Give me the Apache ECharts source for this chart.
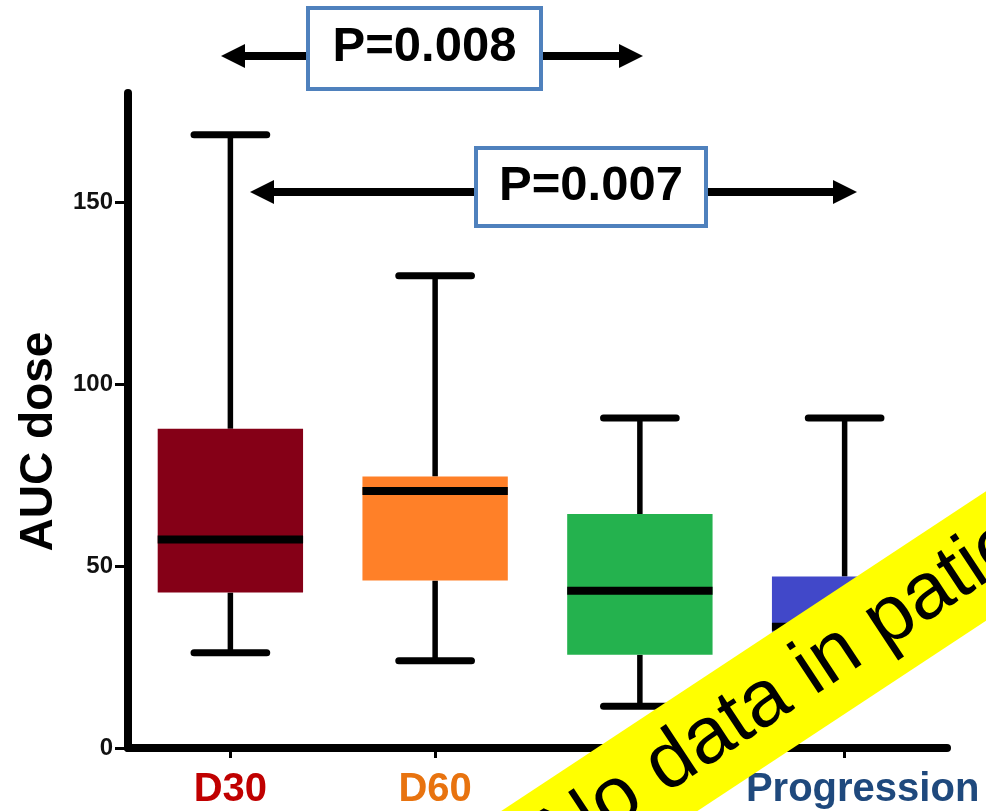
<!DOCTYPE html>
<html><head><meta charset="utf-8">
<script src="https://cdn.jsdelivr.net/npm/echarts@6/dist/echarts.min.js"></script>
<style>html,body{margin:0;padding:0;background:#fff}#c{width:986px;height:811px}</style>
</head><body><div id="c"></div>
<script>
// ---- data ----
const categories = ['D30', 'D60', 'D90', 'Progression'];
const mins    = [26.2, 24.0, 11.5, 18];
const q1s     = [42.7, 46.0, 25.6, 25];
const medians = [57.3, 70.6, 43.2, 33.3];
const q3s     = [87.7, 74.6, 64.3, 47.1];
const maxs    = [168.5, 129.8, 90.7, 90.7];
const yTicks  = [0, 50, 100, 150];
const pLabels = ['P=0.008', 'P=0.007'];
const bannerText = 'No data in patients';

// ---- styles ----
const boxColors   = ['#850017', '#FF8028', '#24B24E', '#4148C9'];
const labelColors = ['#C00000', '#E8730F', '#00B050', '#1F497D'];
const FONT = 'Liberation Sans, Arial, sans-serif';

const boxData = categories.map((c, i) => [i, mins[i], q1s[i], medians[i], q3s[i], maxs[i]]);

const chart = echarts.init(document.getElementById('c'), null, {renderer: 'canvas'});

function renderBox(params, api) {
  const idx = api.value(0);
  const pMin = api.coord([idx, api.value(1)]);
  const pQ1 = api.coord([idx, api.value(2)]);
  const pMed = api.coord([idx, api.value(3)]);
  const pQ3 = api.coord([idx, api.value(4)]);
  const pMax = api.coord([idx, api.value(5)]);
  const bandW = api.size([1, 0])[0];
  const boxW = bandW * 0.71;
  const capW = boxW * 0.5;
  const x = pMin[0];
  const blk = {stroke: '#000', lineWidth: 5.5};
  return {
    type: 'group',
    children: [
      {type: 'line', shape: {x1: x, y1: pQ3[1], x2: x, y2: pMax[1]}, style: blk},
      {type: 'line', shape: {x1: x, y1: pQ1[1], x2: x, y2: pMin[1]}, style: blk},
      {type: 'line', shape: {x1: x - capW / 2, y1: pMax[1], x2: x + capW / 2, y2: pMax[1]}, style: {stroke: '#000', lineWidth: 7, lineCap: 'round'}},
      {type: 'line', shape: {x1: x - capW / 2, y1: pMin[1], x2: x + capW / 2, y2: pMin[1]}, style: {stroke: '#000', lineWidth: 7, lineCap: 'round'}},
      {type: 'rect', shape: {x: x - boxW / 2, y: pQ3[1], width: boxW, height: pQ1[1] - pQ3[1]}, style: {fill: boxColors[params.dataIndex]}},
      {type: 'line', shape: {x1: x - boxW / 2, y1: pMed[1], x2: x + boxW / 2, y2: pMed[1]}, style: {stroke: '#000', lineWidth: 8}}
    ]
  };
}

function arrow(x1, x2, y) {
  const hw = 24, hh = 12;
  return [
    {type: 'line', shape: {x1: x1 + hw - 2, y1: y, x2: x2 - hw + 2, y2: y}, style: {stroke: '#000', lineWidth: 8}, z: 50},
    {type: 'polygon', shape: {points: [[x1, y], [x1 + hw, y - hh], [x1 + hw, y + hh]]}, style: {fill: '#000'}, z: 50},
    {type: 'polygon', shape: {points: [[x2, y], [x2 - hw, y - hh], [x2 - hw, y + hh]]}, style: {fill: '#000'}, z: 50}
  ];
}
function pBox(x, y, w, h, txt) {
  return [
    {type: 'rect', shape: {x: x, y: y, width: w, height: h}, style: {fill: '#fff', stroke: '#4F81BD', lineWidth: 4}, z: 51},
    {type: 'text', x: x + w / 2, y: y + h / 2 - 1, style: {text: txt, fill: '#000', font: 'bold 49px ' + FONT, align: 'center', verticalAlign: 'middle'}, z: 52}
  ];
}

const theta = 33.4 * Math.PI / 180;

const option = {
  animation: false,
  backgroundColor: '#fff',
  grid: {left: 128, right: 39, top: 93, bottom: 63, containLabel: false},
  xAxis: {
    type: 'category',
    data: categories.map((c, i) => ({
      value: c,
      textStyle: i === 3 ? {color: labelColors[i], padding: [0, 0, 0, 36]} : {color: labelColors[i]}
    })),
    boundaryGap: true,
    axisLine: {lineStyle: {color: '#000', width: 8, cap: 'round'}},
    axisTick: {show: true, alignWithLabel: true, length: 10, lineStyle: {color: '#000', width: 3}},
    axisLabel: {interval: 0, margin: 22, fontSize: 40, fontWeight: 'bold', fontFamily: FONT},
    splitLine: {show: false}
  },
  yAxis: {
    type: 'value',
    min: 0, max: 180,
    name: 'AUC dose',
    nameLocation: 'middle',
    nameGap: 66,
    nameTextStyle: {fontSize: 46, fontWeight: 'bold', fontFamily: FONT, color: '#000', padding: [0, 42, 0, 0]},
    axisLine: {show: true, lineStyle: {color: '#000', width: 8, cap: 'round'}},
    axisTick: {show: true, length: 13, customValues: yTicks, lineStyle: {color: '#000', width: 3}},
    axisLabel: {margin: 15, fontSize: 24, fontWeight: 'bold', fontFamily: FONT, color: '#111', customValues: yTicks},
    splitLine: {show: false}
  },
  series: [{
    type: 'custom',
    renderItem: renderBox,
    data: boxData,
    encode: {x: 0, y: [1, 2, 3, 4, 5]},
    z: 5
  }],
  graphic: [
    ...arrow(221, 643, 56),
    ...pBox(308, 8, 233, 81, pLabels[0]),
    ...arrow(250, 857, 192),
    ...pBox(476, 148, 230, 78, pLabels[1]),
    {
      type: 'group',
      x: 793, y: 683.3,
      rotation: theta,
      z: 100,
      children: [
        {type: 'rect', shape: {x: -700, y: -54, width: 1400, height: 108}, style: {fill: '#FFFF00'}, z: 100},
        {type: 'text', x: -292, y: 0, style: {text: bannerText, fill: '#000', font: '80px ' + FONT, align: 'left', verticalAlign: 'middle'}, z: 101}
      ]
    }
  ]
};
chart.setOption(option);
</script></body></html>
